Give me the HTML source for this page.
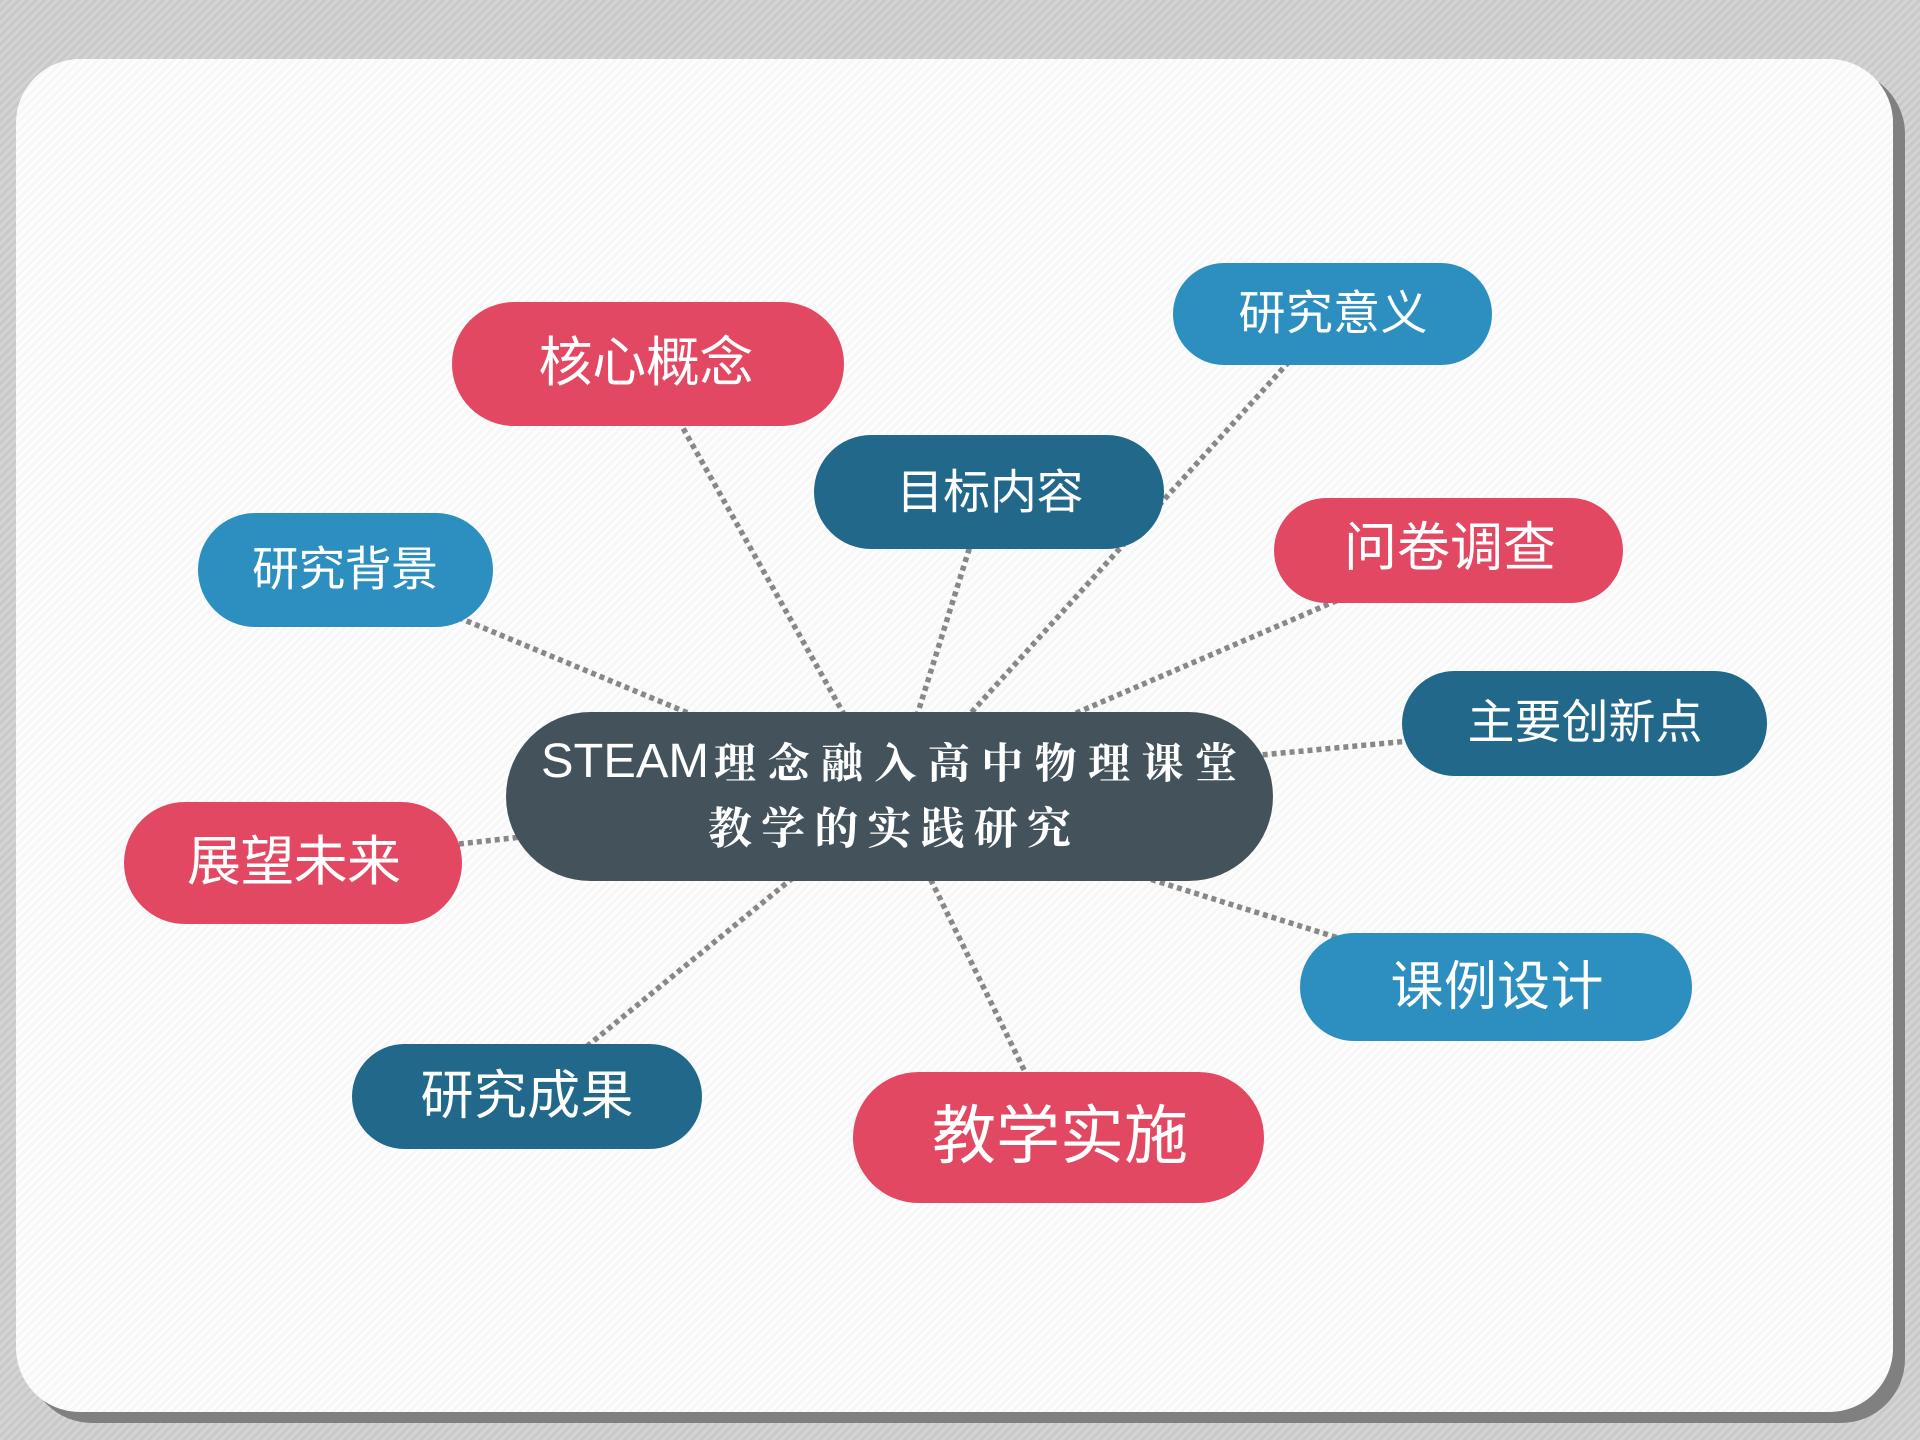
<!DOCTYPE html>
<html>
<head>
<meta charset="utf-8">
<style>
  html, body { margin:0; padding:0; }
  body {
    width:1920px; height:1440px; overflow:hidden; position:relative;
    background: repeating-linear-gradient(135deg, #c9c9c9 0px, #c9c9c9 3px, #d4d4d4 3px, #d4d4d4 6px);
  }
  .card {
    position:absolute; left:16px; top:59px; width:1877px; height:1353px;
    border-radius:64px;
    background: repeating-linear-gradient(135deg, #fdfdfd 0px, #fdfdfd 3px, #f7f7f7 3px, #f7f7f7 6px);
    box-shadow: 12px 11px 0 #808080;
  }
  svg { position:absolute; left:0; top:0; }
  .n { font-family: "Liberation Sans", "Noto Sans CJK SC", sans-serif; fill:#fff; }
  .c { font-family: "Liberation Serif", "Noto Serif CJK SC", serif; fill:#fff; font-weight:bold; }
</style>
</head>
<body>
<div class="card"></div>
<svg width="1920" height="1440" viewBox="0 0 1920 1440" xmlns="http://www.w3.org/2000/svg">
  <g stroke="#888888" stroke-width="5.5" stroke-dasharray="5 4" fill="none">
    <line x1="670" y1="405" x2="850" y2="725"/>
    <line x1="972" y1="540" x2="914" y2="725"/>
    <line x1="1295" y1="355" x2="960" y2="725"/>
    <line x1="1345" y1="597" x2="1060" y2="720"/>
    <line x1="1420" y1="740" x2="1250" y2="756"/>
    <line x1="450" y1="614" x2="700" y2="718"/>
    <line x1="450" y1="845" x2="530" y2="836"/>
    <line x1="1345" y1="940" x2="1140" y2="876"/>
    <line x1="580" y1="1052" x2="800" y2="872"/>
    <line x1="1028" y1="1078" x2="927" y2="872"/>
  </g>

  <!-- central node -->
  <rect x="506" y="712" width="767" height="169" rx="84.5" ry="84.5" fill="#44535b"/>
  <text x="541" y="777" font-family="'Liberation Sans', sans-serif" font-size="48" fill="#fff" textLength="168" lengthAdjust="spacingAndGlyphs">STEAM</text>
  <text class="c" x="714" y="765" dominant-baseline="central" font-size="42" textLength="523" lengthAdjust="spacing">理念融入高中物理课堂</text>
  <text class="c" x="708" y="829" dominant-baseline="central" font-size="44" textLength="363" lengthAdjust="spacing">教学的实践研究</text>

  <!-- nodes -->
  <rect x="452" y="302" width="392" height="124" rx="62" fill="#e34862"/>
  <text class="n" x="646" y="363" text-anchor="middle" dominant-baseline="central" font-size="54" textLength="215" lengthAdjust="spacing">核心概念</text>

  <rect x="1173" y="263" width="319" height="102" rx="51" fill="#2c8fbf"/>
  <text class="n" x="1333" y="313" text-anchor="middle" dominant-baseline="central" font-size="47" textLength="189" lengthAdjust="spacing">研究意义</text>

  <rect x="814" y="435" width="350" height="114" rx="57" fill="#21688a"/>
  <text class="n" x="990" y="492" text-anchor="middle" dominant-baseline="central" font-size="47" textLength="187" lengthAdjust="spacing">目标内容</text>

  <rect x="198" y="513" width="295" height="114" rx="57" fill="#2c8fbf"/>
  <text class="n" x="345" y="569" text-anchor="middle" dominant-baseline="central" font-size="47" textLength="186" lengthAdjust="spacing">研究背景</text>

  <rect x="1274" y="498" width="349" height="105" rx="52.5" fill="#e34862"/>
  <text class="n" x="1450" y="548" text-anchor="middle" dominant-baseline="central" font-size="53" textLength="212" lengthAdjust="spacing">问卷调查</text>

  <rect x="1402" y="671" width="365" height="105" rx="52.5" fill="#21688a"/>
  <text class="n" x="1585" y="722" text-anchor="middle" dominant-baseline="central" font-size="47" textLength="235" lengthAdjust="spacing">主要创新点</text>

  <rect x="124" y="802" width="338" height="122" rx="61" fill="#e34862"/>
  <text class="n" x="294" y="862" text-anchor="middle" dominant-baseline="central" font-size="54" textLength="214" lengthAdjust="spacing">展望未来</text>

  <rect x="1300" y="933" width="392" height="108" rx="54" fill="#2c8fbf"/>
  <text class="n" x="1497" y="987" text-anchor="middle" dominant-baseline="central" font-size="53" textLength="213" lengthAdjust="spacing">课例设计</text>

  <rect x="352" y="1044" width="350" height="105" rx="52.5" fill="#21688a"/>
  <text class="n" x="527" y="1096" text-anchor="middle" dominant-baseline="central" font-size="53" textLength="213" lengthAdjust="spacing">研究成果</text>

  <rect x="853" y="1072" width="411" height="131" rx="65.5" fill="#e34862"/>
  <text class="n" x="1060" y="1136" text-anchor="middle" dominant-baseline="central" font-size="64" textLength="256" lengthAdjust="spacing">教学实施</text>
</svg>
</body>
</html>
